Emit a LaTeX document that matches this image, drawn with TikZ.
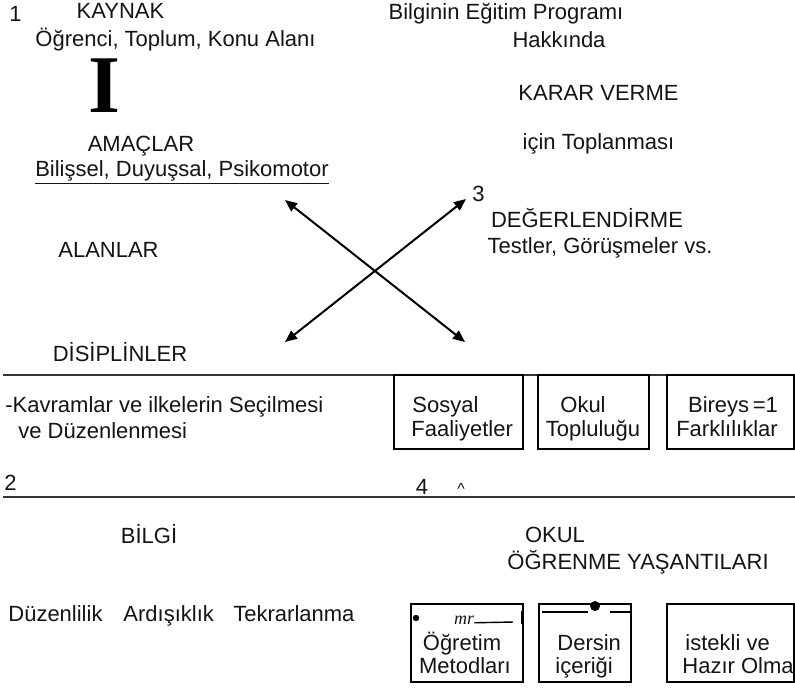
\documentclass[tikz,border=0pt]{standalone}
\usepackage{fontspec}
\setmainfont{Liberation Sans}
\newfontfamily\bigserif{Liberation Serif}
\usetikzlibrary{arrows.meta}

\begin{document}
\begin{tikzpicture}[
    x=0.5pt, y=-0.5pt,
    txt/.style={inner sep=0pt, anchor=base, text=black!92,
                font=\fontsize{11}{13}\selectfont},
    ltxt/.style={txt, anchor=base west},
    box/.style={draw, line width=0.7pt, inner sep=0pt, minimum height=37pt},
    lowbox/.style={box, minimum height=39pt},
    rule/.style={line width=0.8pt, black!80},
    arr/.style={{Triangle[length=6pt,width=5pt]}-{Triangle[length=6pt,width=5pt]},
                line width=1pt}
  ]
    \useasboundingbox (0,0) rectangle (795,687);

    % upper left: sources and aims
    \node[ltxt] (num1) at (9,21) {1};
    \node[txt] (kaynak) at (120.5,18) {KAYNAK};
    \node[txt] (kaynaklist) at (175.5,46) {Öğrenci,  Toplum,  Konu Alanı};
    \node[txt, font=\bigserif\bfseries\fontsize{41}{41}\selectfont, text=black]
      (bigI) at (104,112) {I};
    \node[txt] (amaclar) at (141,151) {AMAÇLAR};
    \node[txt] (amaclist) at (182,176) {\underline{Bilişsel,  Duyuşsal,  Psikomotor}};
    \node[txt] (alanlar) at (108.5,257) {ALANLAR};
    \node[txt] (disiplinler) at (120,361) {DİSİPLİNLER};

    % upper right: decision making
    \node[txt] (bilgiprog) at (506,19) {Bilginin  Eğitim  Programı};
    \node[txt] (hakkinda) at (559,47) {Hakkında};
    \node[txt] (karar) at (598.5,100) {KARAR  VERME};
    \node[txt] (toplanma) at (598.5,149) {için  Toplanması};
    \node[ltxt] (num3) at (472,201) {3};
    \node[txt] (degerlendirme) at (587,227) {DEĞERLENDİRME};
    \node[txt] (testler) at (600,253) {Testler,  Görüşmeler vs.};

    % crossing arrows
    \coordinate (ul) at (285,200);
    \coordinate (lr) at (465,342);
    \coordinate (ur) at (466,199);
    \coordinate (ll) at (285,342);
    \draw[arr] (ul) -- (lr);
    \draw[arr] (ll) -- (ur);

    % first rule and middle row
    \coordinate (rule1L) at (3,375);
    \coordinate (rule1R) at (795,375);
    \draw[rule] (rule1L) -- (rule1R);
    \node[ltxt] (kavram1) at (5,412) {-Kavramlar ve  ilkelerin  Seçilmesi};
    \node[ltxt] (kavram2) at (18,438) {ve  Düzenlenmesi};

    \node[box, minimum width=64.5pt] (sosyalbox) at (458.5,412) {};
    \node[box, minimum width=55.5pt] (okulbox) at (593.5,412) {};
    \node[box, minimum width=63.5pt] (bireybox) at (730.5,412) {};
    \node[ltxt] (sosyal1) at (412,412) {Sosyal};
    \node[ltxt] (sosyal2) at (411,436) {Faaliyetler};
    \node[txt] (okul1) at (583,412) {Okul};
    \node[txt] (okul2) at (593,436) {Topluluğu};
    \node[txt] (birey1) at (733,412) {Bireys\,=1};
    \node[txt] (birey2) at (727,436) {Farklılıklar};

    % second rule
    \coordinate (rule2L) at (3,497);
    \coordinate (rule2R) at (795,497);
    \draw[rule, line width=1.1pt] (rule2L) -- (rule2R);
    \node[ltxt] (num2) at (4,490) {2};
    \node[txt] (num4) at (422,494) {4};
    \node[txt, font=\fontsize{8}{8}\selectfont] (caret) at (461,494) {\textasciicircum};

    % lower half
    \node[txt] (bilgi) at (149,543) {BİLGİ};
    \node[txt] (okul) at (555,542) {OKUL};
    \node[txt] (yasanti) at (638,569) {ÖĞRENME  YAŞANTILARI};
    \node[ltxt] (duzen) at (8,621) {Düzenlilik};
    \node[ltxt] (ardisik) at (123,621) {Ardışıklık};
    \node[ltxt] (tekrar) at (233,621) {Tekrarlanma};

    \node[lowbox, minimum width=56pt] (metodbox) at (467,643) {};
    \node[lowbox, minimum width=46pt] (dersbox) at (585,643) {};
    \node[lowbox, minimum width=63.5pt] (istekbox) at (730.5,643) {};
    \node[txt] (metod1) at (462,650) {Öğretim};
    \node[txt] (metod2) at (465,673) {Metodları};
    \node[ltxt] (ders1) at (557,650) {Dersin};
    \node[ltxt] (ders2) at (555,673) {içeriği};
    \node[ltxt] (istek1) at (685,650) {istekli  ve};
    \node[ltxt] (istek2) at (682,673) {Hazır  Olma};

    % specks at the top of the lower boxes
    \fill (416,618) circle (1.6pt);
    \node[txt, font=\bigserif\itshape\fontsize{9}{9}\selectfont] (mr) at (464,624) {mr};
    \coordinate (mrend) at (513,622);
    \draw[line width=0.7pt] (mr.east) ++(0,3) -- (mrend);
    \coordinate (tickT) at (522,611);
    \coordinate (tickB) at (522,624);
    \draw[line width=0.9pt] (tickT) -- (tickB);
    \coordinate (barA) at (542,612);
    \coordinate (barB) at (588,612);
    \coordinate (barC) at (610,612);
    \coordinate (barD) at (631,612);
    \draw[line width=1.3pt] (barA) -- (barB);
    \draw[line width=1.3pt] (barC) -- (barD);
    \fill (595,606) circle (2.5pt);
  \end{tikzpicture}
\end{document}
